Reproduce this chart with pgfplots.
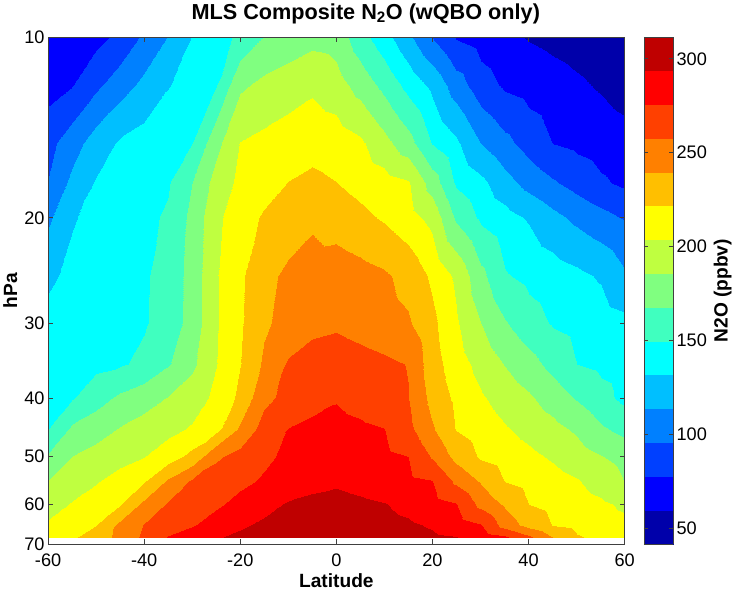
\documentclass[border=0pt]{standalone}
\usepackage{fontspec}
\setmainfont{Liberation Sans}
\usepackage{pgfplots}
\pgfplotsset{compat=1.18}

\begin{document}
\begin{tikzpicture}
\begin{axis}[
  scale only axis, width=572pt, height=503pt,
  view={0}{90},
  xmin=-60, xmax=60, ymin=10, ymax=70,
  ymode=log, y dir=reverse,
  xtick={-60,-40,...,60},
  ytick={10,20,30,40,50,60,70},
  yticklabels={10,20,30,40,50,60,70},
  minor ytick={},
  tick align=inside,
  major tick length=5pt,
  tick style={color=black!75, line width=0.6pt},
  axis line style={black!75, line width=0.6pt},
  axis on top,
  tick label style={font=\fontsize{18}{20}\selectfont},
  xticklabel style={yshift=-6pt},
  /pgf/number format/assume math mode=true,
  label style={font=\bfseries\fontsize{19}{22}\selectfont},
  xlabel={Latitude}, ylabel={hPa},
  title={MLS Composite N\textsubscript{2}O (wQBO only)},
  title style={font=\bfseries\fontsize{21.5}{24}\selectfont, at={(0.551,1)}, yshift=4pt},
  colormap={n2o}{rgb255=(0,0,170) rgb255=(0,0,255) rgb255=(0,64,255)
    rgb255=(0,128,255) rgb255=(0,191,255) rgb255=(0,255,255)
    rgb255=(64,255,191) rgb255=(128,255,128) rgb255=(191,255,64)
    rgb255=(255,255,0) rgb255=(255,191,0) rgb255=(255,128,0)
    rgb255=(255,64,0) rgb255=(255,0,0) rgb255=(191,0,0)},
  colormap access=piecewise constant,
  point meta min=41.5, point meta max=311.5,
  colorbar,
  colorbar shift/.style={xshift=19pt},
  colorbar style={
    at={(parent axis.north east)}, anchor=north west,
    width=29pt,
    ytick={50,100,150,200,250,300},
    yticklabel style={font=\fontsize{18}{20}\selectfont},
    /pgf/number format/assume math mode=true,
    tick align=inside, major tick length=4pt,
    tick style={color=black!75, line width=0.6pt},
    axis line style={black!75, line width=0.6pt},
    ylabel={N2O (ppbv)},
    ylabel style={font=\bfseries\fontsize{19}{22}\selectfont},
  },
]
\addplot3[surf, shader=interp, mesh/cols=25] coordinates {
(-60,10,62) (-55,10,67) (-50,10,72) (-45,10,82) (-40,10,98.9) (-35,10,114.3) (-30,10,132.3) (-25,10,142.1) (-20,10,153.4) (-15,10,168.4) (-10,10,174.5) (-5,10,180) (0,10,178) (5,10,156.8) (10,10,138.6) (15,10,117.3) (20,10,95) (25,10,76.1) (30,10,69.8) (35,10,63.5) (40,10,58.3) (45,10,55) (50,10,52) (55,10,48.5) (60,10,45)
(-60,12,70) (-55,12,76.8) (-50,12,91.7) (-45,12,105.4) (-40,12,118.2) (-35,12,130.5) (-30,12,139.5) (-25,12,148.3) (-20,12,182.2) (-15,12,190) (-10,12,195) (-5,12,200) (0,12,193) (5,12,178.4) (10,12,162.4) (15,12,143.8) (20,12,127.2) (25,12,104.3) (30,12,85.2) (35,12,74.7) (40,12,70.6) (45,12,66.4) (50,12,62.2) (55,12,57.5) (60,12,52)
(-60,15,90) (-55,15,105.4) (-50,15,122.2) (-45,15,133.6) (-40,15,138.8) (-35,15,144.1) (-30,15,149.3) (-25,15,179.7) (-20,15,203.9) (-15,15,208.1) (-10,15,212.2) (-5,15,216.3) (0,15,213.8) (5,15,206.7) (10,15,191.4) (15,15,174.6) (20,15,148.7) (25,15,134.8) (30,15,113) (35,15,100.3) (40,15,88.1) (45,15,77.1) (50,15,73.4) (55,15,69.7) (60,15,66)
(-60,17.5,96) (-55,17.5,118.2) (-50,17.5,133.1) (-45,17.5,138) (-40,17.5,142.9) (-35,17.5,147.8) (-30,17.5,167.5) (-25,17.5,192.7) (-20,17.5,207.7) (-15,17.5,214.9) (-10,17.5,221.8) (-5,17.5,225) (0,17.5,221.8) (5,17.5,216.5) (10,17.5,211) (15,17.5,205.5) (20,17.5,177.6) (25,17.5,147.1) (30,17.5,136.1) (35,17.5,120.2) (40,17.5,107.2) (45,17.5,97.6) (50,17.5,88.8) (55,17.5,80.2) (60,17.5,74)
(-60,20,110) (-55,20,130) (-50,20,136.8) (-45,20,141.2) (-40,20,145.6) (-35,20,151.8) (-30,20,172.6) (-25,20,199.6) (-20,20,213.8) (-15,20,223.7) (-10,20,229.9) (-5,20,236) (0,20,230.8) (5,20,225.6) (10,20,219.8) (15,20,211) (20,20,198) (25,20,165) (30,20,146.4) (35,20,138.3) (40,20,129.7) (45,20,118.8) (50,20,109.5) (55,20,101.8) (60,20,94)
(-60,25,128) (-55,25,135.9) (-50,25,139.8) (-45,25,143.7) (-40,25,147.4) (-35,25,156.1) (-30,25,174.2) (-25,25,202) (-20,25,218.6) (-15,25,234.4) (-10,25,243.2) (-5,25,248.7) (0,25,250.4) (5,25,246.3) (10,25,242.1) (15,25,234) (20,25,218.5) (25,25,200.3) (30,25,172.4) (35,25,151.1) (40,25,145.1) (45,25,140.3) (50,25,135.6) (55,25,129.6) (60,25,116)
(-60,30,137) (-55,30,140.5) (-50,30,143) (-45,30,145.6) (-40,30,148.1) (-35,30,156.5) (-30,30,174.7) (-25,30,201.8) (-20,30,219.2) (-15,30,237) (-10,30,245.3) (-5,30,252) (0,30,254.3) (5,30,250) (10,30,245.8) (15,30,241.5) (20,30,225.7) (25,30,205.8) (30,30,185.5) (35,30,168.8) (40,30,156.6) (45,30,147.9) (50,30,143.9) (55,30,140) (60,30,136)
(-60,35,141) (-55,35,143.3) (-50,35,145.5) (-45,35,147.8) (-40,35,152.9) (-35,35,165.9) (-30,35,181.4) (-25,35,203) (-20,35,221.1) (-15,35,242.5) (-10,35,259.5) (-5,35,266.1) (0,35,268.5) (5,35,264.8) (10,35,261.1) (15,35,256.8) (20,35,229.3) (25,35,211.7) (30,35,197.2) (35,35,184.6) (40,35,173.9) (45,35,161.9) (50,35,149.4) (55,35,145.7) (60,35,142)
(-60,40,144) (-55,40,148.2) (-50,40,159.8) (-45,40,171.1) (-40,40,178.6) (-35,40,186.3) (-30,40,195.8) (-25,40,207.1) (-20,40,225.6) (-15,40,253.2) (-10,40,262.6) (-5,40,268.3) (0,40,274) (5,40,268.7) (10,40,263.5) (15,40,258.2) (20,40,233.9) (25,40,217.8) (30,40,205.5) (35,40,196.4) (40,40,188) (45,40,177.4) (50,40,166) (55,40,155.3) (60,40,145)
(-60,45,149) (-55,45,170.7) (-50,45,178.8) (-45,45,186.6) (-40,45,192.5) (-35,45,198.5) (-30,45,205.3) (-25,45,216.2) (-20,45,242.3) (-15,45,265.2) (-10,45,275.9) (-5,45,280.4) (0,45,281.8) (5,45,278.9) (10,45,275.9) (15,45,262.8) (20,45,241.5) (25,45,220.7) (30,45,212.9) (35,45,205.1) (40,45,197.9) (45,45,190.8) (50,45,182.5) (55,45,170) (60,45,162)
(-60,50,170) (-55,50,185.8) (-50,50,191.7) (-45,50,197.5) (-40,50,203.3) (-35,50,213.3) (-30,50,227.5) (-25,50,254.9) (-20,50,264.5) (-15,50,272.4) (-10,50,278.9) (-5,50,284.6) (0,50,286.6) (5,50,283) (10,50,279.3) (15,50,275.7) (20,50,256.2) (25,50,234.2) (30,50,219.3) (35,50,213.5) (40,50,207.7) (45,50,201.4) (50,50,193.9) (55,50,186.4) (60,50,180)
(-60,55,186) (-55,55,194.5) (-50,55,202) (-45,55,210.7) (-40,55,219.7) (-35,55,242.1) (-30,55,259.9) (-25,55,265.8) (-20,55,271.7) (-15,55,277.5) (-10,55,283.1) (-5,55,288.7) (0,55,290.6) (5,55,287) (10,55,283.3) (15,55,279.7) (20,55,276.1) (25,55,253.9) (30,55,237.3) (35,55,220.9) (40,55,215.5) (45,55,210.1) (50,55,204.8) (55,55,195.7) (60,55,185)
(-60,60,196) (-55,60,204.7) (-50,60,212.5) (-45,60,220.3) (-40,60,243.6) (-35,60,259.2) (-30,60,266) (-25,60,272.7) (-20,60,280.5) (-15,60,289) (-10,60,294.8) (-5,60,297.4) (0,60,300) (5,60,297.1) (10,60,294.2) (15,60,288.8) (20,60,282.5) (25,60,276.3) (30,60,252.1) (35,60,236.4) (40,60,221.3) (45,60,216.4) (50,60,211.5) (55,60,206.5) (60,60,200)
(-60,65,206) (-55,65,214) (-50,65,221) (-45,65,244) (-40,65,258.3) (-35,65,266.2) (-30,65,274.1) (-25,65,282.7) (-20,65,291.6) (-15,65,295.9) (-10,65,298.9) (-5,65,302) (0,65,305) (5,65,302) (10,65,298.9) (15,65,295.9) (20,65,291.8) (25,65,284.1) (30,65,276.4) (35,65,250.1) (40,65,232.9) (45,65,220.7) (50,65,216.4) (55,65,212.2) (60,65,208)
(-60,68.1,212) (-55,68.1,218.8) (-50,68.1,229.8) (-45,68.1,244.5) (-40,68.1,261.1) (-35,68.1,276.5) (-30,68.1,284.4) (-25,68.1,292.4) (-20,68.1,296.1) (-15,68.1,299.1) (-10,68.1,302) (-5,68.1,305) (0,68.1,308) (5,68.1,305.1) (10,68.1,302.1) (15,68.1,299.2) (20,68.1,296.3) (25,68.1,294) (30,68.1,285.6) (35,68.1,278.1) (40,68.1,260.7) (45,68.1,238.6) (50,68.1,223.1) (55,68.1,217) (60,68.1,212)
};
\end{axis}
\end{tikzpicture}
\end{document}
